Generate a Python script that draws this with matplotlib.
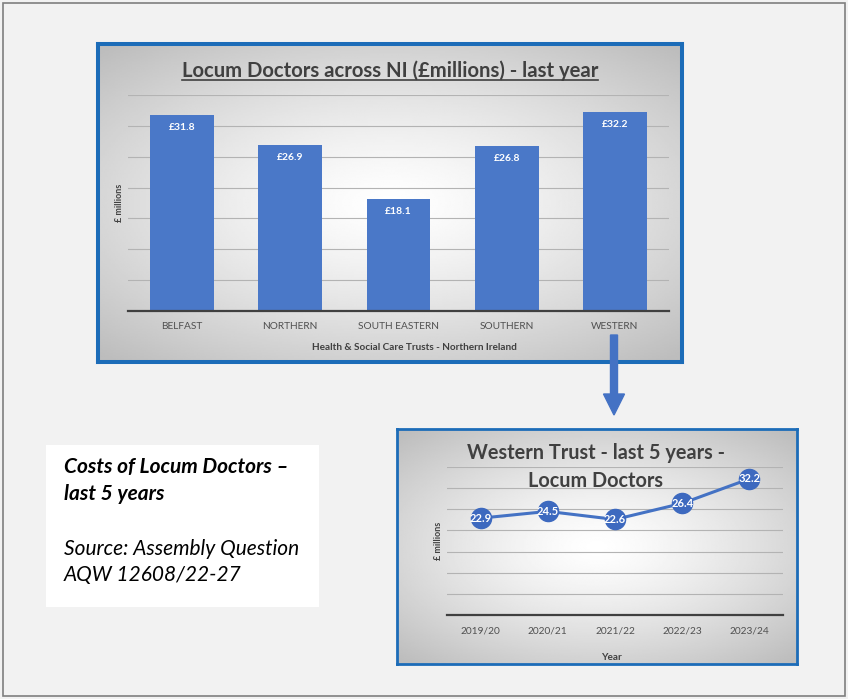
import numpy as np
import matplotlib.pyplot as plt
from matplotlib.patches import Rectangle, FancyArrow

plt.rcParams['font.family'] = ['Lato', 'DejaVu Sans']

# data
trusts = ['BELFAST', 'NORTHERN', 'SOUTH EASTERN', 'SOUTHERN', 'WESTERN']
cost_last_year = [31.8, 26.9, 18.1, 26.8, 32.2]
years = ['2019/20', '2020/21', '2021/22', '2022/23', '2023/24']
western_cost = [22.9, 24.5, 22.6, 26.4, 32.2]

W, H = 848, 699
BLUE = '#4a78c8'
DARK = '#404040'

fig = plt.figure(figsize=(W / 100, H / 100), dpi=100)
fig.patch.set_facecolor('#f2f2f2')


def rect(l, t, r, b):
    return [l / W, 1 - b / H, (r - l) / W, (b - t) / H]


def panel(l, t, r, b, lw):
    ax = fig.add_axes(rect(l, t, r, b))
    yy, xx = np.mgrid[-1:1:200j, -1:1:300j]
    shade = 1 - 0.26 * np.clip(np.hypot(xx, yy * 1.1) / 1.45, 0, 1) ** 1.3
    ax.imshow(shade, cmap='gray', vmin=0, vmax=1, extent=[0, 1, 0, 1], aspect='auto')
    ax.set_xticks([])
    ax.set_yticks([])
    for s in ax.spines.values():
        s.set_color('#1c6cb8')
        s.set_linewidth(lw)
    return ax


def style_chart(ax):
    ax.set_facecolor('none')
    ax.set_ylim(0, 35)
    ax.set_yticks(np.arange(5, 36, 5))
    ax.yaxis.grid(True, color='#b3b3b3', lw=0.8)
    ax.set_axisbelow(True)
    ax.tick_params(axis='y', left=False, labelleft=False)
    ax.tick_params(axis='x', length=0, colors='#505050', labelsize=7.3, pad=8)
    for s in ['left', 'right', 'top']:
        ax.spines[s].set_visible(False)
    ax.spines['bottom'].set_color(DARK)
    ax.spines['bottom'].set_linewidth(1.6)


# top panel - bar chart
panel(98, 44, 682, 362, 2.9)
ax1 = fig.add_axes(rect(128, 95, 669, 311))
style_chart(ax1)
x1 = np.arange(len(trusts))
ax1.bar(x1, cost_last_year, width=0.59, color=BLUE)
ax1.set_xlim(-0.5, 4.5)
ax1.set_xticks(x1)
ax1.set_xticklabels(trusts)
for xi, v in zip(x1, cost_last_year):
    ax1.annotate('£{:.1f}'.format(v), (xi, v), xytext=(0, -9), textcoords='offset points',
                 ha='center', va='center', color='white', fontsize=7.5, fontweight='bold')
ax1.set_ylabel('£ millions', fontsize=6.5, fontweight='bold', color=DARK, labelpad=3)

# bottom panel - line chart
panel(397, 429, 797, 664, 2.0)
ax2 = fig.add_axes(rect(447, 467, 783, 615))
style_chart(ax2)
x2 = np.arange(len(years))
ax2.plot(x2, western_cost, color='#4472c4', lw=2.2, marker='o', markersize=14.5,
         markerfacecolor='#3d69bf', markeredgecolor='#3d69bf')
ax2.set_xlim(-0.5, 4.5)
ax2.set_xticks(x2)
ax2.set_xticklabels(years)
for xi, v in zip(x2, western_cost):
    ax2.text(xi, v, '{:.1f}'.format(v), ha='center', va='center', color='white',
             fontsize=8, fontweight='bold')
ax2.set_ylabel('£ millions', fontsize=6.5, fontweight='bold', color=DARK, labelpad=3)

# overlay for texts, text box and arrow
ov = fig.add_axes([0, 0, 1, 1], zorder=10)
ov.set_xlim(0, W)
ov.set_ylim(H, 0)
ov.axis('off')
ov.patch.set_visible(False)

ov.add_patch(Rectangle((3, 3), 842, 693, fill=False, edgecolor='#7f7f7f', lw=1.2))
ov.add_patch(Rectangle((46, 445), 273, 162, facecolor='white', edgecolor='none'))

t = ov.text(390, 77, 'Locum Doctors across NI (£millions) - last year', ha='center',
            va='baseline', fontsize=14.6, fontweight='bold', color=DARK)
fig.canvas.draw()
bb = t.get_window_extent().transformed(ov.transData.inverted())
ov.plot([bb.x0, bb.x1], [80, 80], color=DARK, lw=1.2)

ov.text(414, 347, 'Health & Social Care Trusts - Northern Ireland', ha='center', va='center',
        fontsize=7.2, fontweight='bold', color=DARK)

ov.text(596, 459, 'Western Trust - last 5 years -', ha='center', va='baseline',
        fontsize=14.3, fontweight='bold', color=DARK)
ov.text(596, 487, 'Locum Doctors', ha='center', va='baseline',
        fontsize=14.3, fontweight='bold', color=DARK)
ov.text(611, 657, 'Year', ha='center', va='center', fontsize=7.2, fontweight='bold', color=DARK)

ov.text(64, 473, 'Costs of Locum Doctors –', ha='left', va='baseline', fontsize=15,
        fontweight='bold', fontstyle='italic', color='black')
ov.text(64, 500, 'last 5 years', ha='left', va='baseline', fontsize=15,
        fontweight='bold', fontstyle='italic', color='black')
ov.text(64, 555, 'Source: Assembly Question', ha='left', va='baseline', fontsize=15,
        fontstyle='italic', color='black')
ov.text(64, 581, 'AQW 12608/22-27', ha='left', va='baseline', fontsize=15,
        fontstyle='italic', color='black')

ov.add_patch(FancyArrow(614, 335, 0, 80, width=7, head_width=21, head_length=21,
                        length_includes_head=True, color='#4472c4'))

plt.savefig('out.png', dpi=100, facecolor=fig.get_facecolor())
